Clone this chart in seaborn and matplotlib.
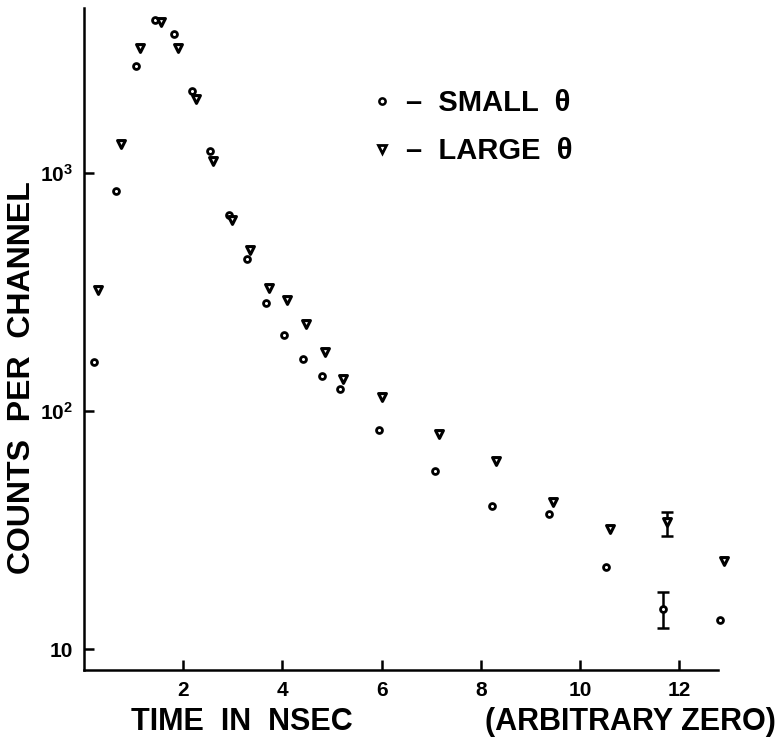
import matplotlib
matplotlib.use('Agg')
import matplotlib.pyplot as plt
from matplotlib.lines import Line2D
from matplotlib.ticker import FixedLocator, NullLocator
import seaborn as sns

# small angle (circles)
small_t = [0.20, 0.64, 1.04, 1.43, 1.81, 2.18, 2.55, 2.92, 3.28, 3.66, 4.03,
           4.41, 4.79, 5.17, 5.95, 7.08, 8.23, 9.38, 10.52, 11.67, 12.82]
small_counts = [160, 843, 2805, 4395, 3837, 2217, 1237, 664, 434, 283, 208,
                165, 140, 124, 83, 56, 40, 37, 22, 14.7, 13.2]

# large angle (triangles)
large_t = [0.28, 0.75, 1.13, 1.55, 1.90, 2.26, 2.61, 2.99, 3.35, 3.73, 4.10,
           4.48, 4.86, 5.23, 6.00, 7.16, 8.30, 9.45, 10.60, 11.76, 12.91]
large_counts = [322, 1324, 3357, 4305, 3357, 2042, 1126, 635, 474, 330, 293,
                233, 177, 136, 114, 80, 61.5, 41.6, 31.9, 34.3, 23.4]

# error bars drawn on two points
err_t = [11.67, 11.76]
err_counts = [14.7, 34.3]
err_low = [12.3, 29.9]
err_high = [17.3, 37.7]

x_ticks = [2, 4, 6, 8, 10, 12]
y_ticks = [10, 100, 1000]
y_tick_labels = ['10', r'$\mathbf{10^2}$', r'$\mathbf{10^3}$']

sns.set_style('ticks')
plt.rcParams['font.family'] = ['Liberation Sans', 'DejaVu Sans']
plt.rcParams['font.weight'] = 'bold'
plt.rcParams['axes.labelweight'] = 'bold'
plt.rcParams['mathtext.fontset'] = 'custom'
plt.rcParams['mathtext.bf'] = 'Liberation Sans:bold'
plt.rcParams['mathtext.rm'] = 'Liberation Sans:bold'
for key in ['text.color', 'axes.labelcolor', 'axes.edgecolor',
            'xtick.color', 'ytick.color']:
    plt.rcParams[key] = 'black'

fig = plt.figure(figsize=(7.79, 7.44), dpi=100)
ax = fig.add_axes([0.1078, 0.0995, 0.8469, 0.8898])

sns.scatterplot(x=small_t, y=small_counts, marker='o', s=18, color='white',
                edgecolor='black', linewidth=2.0, ax=ax, zorder=3)
sns.scatterplot(x=large_t, y=large_counts, marker='v', s=32, color='white',
                edgecolor='black', linewidth=2.2, ax=ax, zorder=3)

yerr = [[c - lo for c, lo in zip(err_counts, err_low)],
        [hi - c for c, hi in zip(err_counts, err_high)]]
ax.errorbar(err_t, err_counts, yerr=yerr, fmt='none', ecolor='black',
            elinewidth=1.8, capsize=4.5, capthick=1.8, zorder=2)

ax.set_yscale('log')
ax.set_xlim(0, 13.3)
ax.set_ylim(8.165, 4930)
ax.xaxis.set_major_locator(FixedLocator(x_ticks))
ax.yaxis.set_major_locator(FixedLocator(y_ticks))
ax.yaxis.set_minor_locator(NullLocator())
ax.set_yticklabels(y_tick_labels)
ax.tick_params(direction='in', length=7, width=1.8, labelsize=15, pad=8)

sns.despine(ax=ax)
for side in ['left', 'bottom']:
    ax.spines[side].set_linewidth(1.8)
ax.spines['bottom'].set_bounds(0, 12.78)

ax.set_ylabel('COUNTS  PER  CHANNEL', fontsize=23, va='center')
ax.yaxis.set_label_coords(-0.094, 0.441)
ax.set_xlabel('TIME  IN  NSEC', fontsize=22, va='center')
ax.xaxis.set_label_coords(0.2395, -0.0785)
ax.text(0.829, -0.0785, '(ARBITRARY ZERO)', transform=ax.transAxes,
        ha='center', va='center', fontsize=22)

handles = [Line2D([], [], marker='o', ls='none', mfc='white', mec='black',
                  ms=4.5, mew=1.8),
           Line2D([], [], marker='v', ls='none', mfc='white', mec='black',
                  ms=6, mew=2.0)]
ax.legend(handles, ['–  SMALL  θ', '–  LARGE  θ'], loc='upper left',
          bbox_to_anchor=(0.476, 0.880), bbox_transform=fig.transFigure,
          frameon=False, fontsize=21, borderpad=0, borderaxespad=0,
          handlelength=0.8, handletextpad=0.4, labelspacing=0.69)

fig.savefig('out.png', dpi=100)
